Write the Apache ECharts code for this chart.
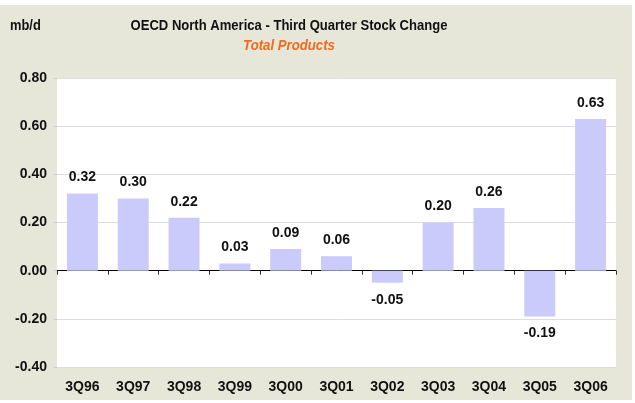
<!DOCTYPE html>
<html><head><meta charset="utf-8">
<script src="https://cdn.jsdelivr.net/npm/echarts@6/dist/echarts.min.js"></script>
<style>html,body{margin:0;padding:0;background:#fff}#c{width:635px;height:403px}</style>
</head><body><div id="c"></div>
<script>
var categories = ['3Q96','3Q97','3Q98','3Q99','3Q00','3Q01','3Q02','3Q03','3Q04','3Q05','3Q06'];
var values = [0.32,0.30,0.22,0.03,0.09,0.06,-0.05,0.20,0.26,-0.19,0.63];
var titleText = 'OECD North America - Third Quarter Stock Change';
var subtitleText = 'Total Products';
var unitText = 'mb/d';
var chart = echarts.init(document.getElementById('c'));
var font = 'Helvetica, Arial, "Liberation Sans", sans-serif';
chart.setOption({
  backgroundColor: '#ffffff',
  animation: false,
  graphic: [
    {type:'rect', shape:{x:0,y:5,width:632,height:395}, style:{fill:'#E7E7D9'}, z:-10, silent:true},
    {type:'text', x:10, y:26, scaleX:0.92, style:{text:unitText, font:'bold 14px ' + font, fill:'#111', textVerticalAlign:'middle'}},
    {type:'text', x:289, y:26, scaleX:0.9, style:{text:titleText, font:'bold 14.5px ' + font, fill:'#111', textAlign:'center', textVerticalAlign:'middle'}},
    {type:'text', x:289, y:46, scaleX:0.91, style:{text:subtitleText, font:'italic bold 14.5px ' + font, fill:'#EF6A1E', textAlign:'center', textVerticalAlign:'middle'}}
  ],
  grid: {left: 57, right: 19, top: 78, height: 289, show: true, backgroundColor: '#fff', borderWidth: 0},
  xAxis: [
    {type:'category', data: categories, axisLine:{onZero:true, lineStyle:{color:'#000', width:1}},
     axisTick:{show:true, inside:false, length:4, lineStyle:{color:'#333'}}, axisLabel:{show:false}, splitLine:{show:false}},
    {type:'category', data: categories, position:'bottom', axisLine:{show:false, onZero:false}, axisTick:{show:false},
     axisLabel:{fontFamily:font, fontWeight:'bold', fontSize:14, color:'#111', margin:13}}
  ],
  yAxis: {
    type:'value', min:-0.4, max:0.8, interval:0.2,
    axisLine:{show:false}, axisTick:{show:true, length:3, lineStyle:{color:'#ccc'}},
    splitLine:{lineStyle:{color:'#dddddd'}},
    axisLabel:{formatter:function(v){return v.toFixed(2);}, fontFamily:font, fontWeight:'bold', fontSize:14, color:'#111', margin:10}
  },
  series: [{
    type:'bar', xAxisIndex:0, barCategoryGap:'39%',
    itemStyle:{color:'#CBCBFB'},
    data: values.map(function(v){return {value:v, label:{position: v<0?'bottom':'top', distance: v<0?10:9}};}),
    label:{show:true, distance:9, formatter:function(p){return p.value.toFixed(2);}, fontFamily:font, fontWeight:'bold', fontSize:14, color:'#111'}
  }]
});
</script></body></html>
